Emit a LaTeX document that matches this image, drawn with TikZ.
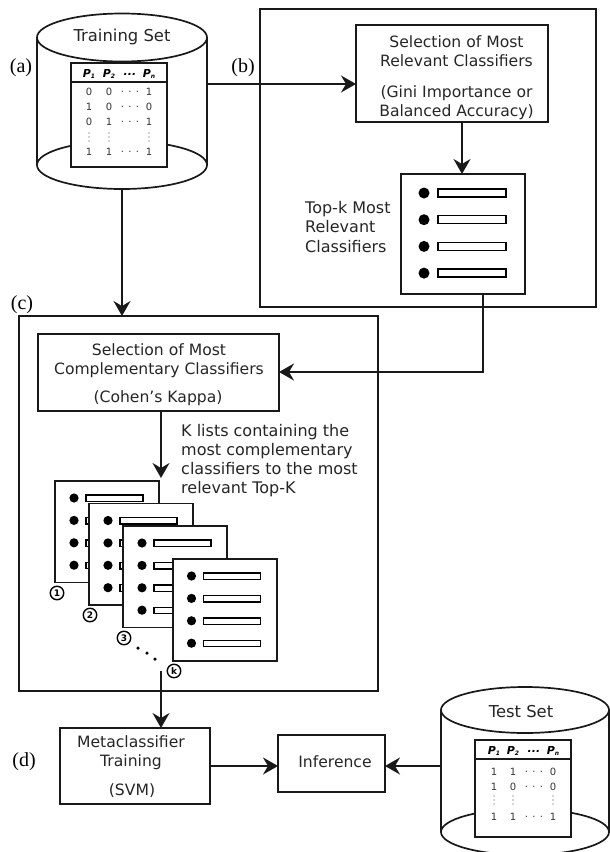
\documentclass[tikz,border=0pt]{standalone}
\usepackage{fontspec}
\setmainfont{DejaVu Sans}
\newfontfamily\serifl{Liberation Serif}
\usetikzlibrary{arrows.meta,calc}
\tikzset{
  x=1pt,y=-1pt,
  ink/.style={line width=1.7pt,draw=black!90},
  boxn/.style={ink,fill=white,inner sep=0pt,outer sep=0pt},
  flow/.style={ink,-{Stealth[length=15pt,width=17pt,inset=5pt]}},
  txt/.style={font=\fontsize{15.6}{19.2}\selectfont,text=black!85,align=center,inner sep=0pt},
  txtl/.style={txt,align=left,anchor=west},
  tag/.style={font=\serifl\fontsize{20}{22}\selectfont,inner sep=0pt},
  cell/.style={font=\fontsize{10}{10}\selectfont,text=black!80,inner sep=0pt},
  hcell/.style={font=\bfseries\itshape\fontsize{11}{10}\selectfont,inner sep=0pt},
  num/.style={circle,draw=black,line width=1.4pt,fill=white,minimum size=13.5pt,inner sep=0pt,font=\bfseries\fontsize{9}{9}\selectfont},
  dotn/.style={circle,fill=black,inner sep=0pt,minimum size=#1},
}
\newcommand{\rectnode}[6][]{% name x1 y1 x2 y2
  \node[boxn,#1,minimum width={(#5)*1pt-(#3)*1pt},minimum height={(#6)*1pt-(#4)*1pt}] (#2) at ({((#3)+(#5))/2},{((#4)+(#6))/2}) {};}
\newcommand{\cylinder}[7]{% name cx rx ytop ybot ry
  \node[inner sep=0pt,minimum size=0pt] (#1) at (#2,#4) {};
  \fill[white] (#2-#3,#4) -- (#2-#3,#5) arc[start angle=180,end angle=360,x radius=#3,y radius=-#6] -- (#2+#3,#4) -- cycle;
  \draw[ink] (#2-#3,#5) arc[start angle=180,end angle=0,x radius=#3,y radius=-#6];
  \draw[ink,fill=white] (#2-#3,#5) arc[start angle=180,end angle=360,x radius=#3,y radius=-#6];
  \draw[ink] (#2-#3,#4) -- (#2-#3,#5) (#2+#3,#4) -- (#2+#3,#5);
  \draw[ink,fill=white] (#2,#4) ellipse[x radius=#3,y radius=#6];
  #7}
\newcommand{\head}[5]{% x1 x2 x3 x4 y
  \node[hcell] at (#1,#5) {P\raisebox{-1pt}{\fontsize{6}{6}\selectfont 1}};
  \node[hcell] at (#2,#5) {P\raisebox{-1pt}{\fontsize{6}{6}\selectfont 2}};
  \node[hcell] at (#3,#5) {...};
  \node[hcell] at (#4,#5) {P\raisebox{-1pt}{\fontsize{6}{6}\selectfont n}};}
\newcommand{\row}[8]{% x1 x2 x3 x4 y a b d
  \node[cell] at (#1,#5) {#6};
  \node[cell] at (#2,#5) {#7};
  \node[cell] at (#3,#5) {. . .};
  \node[cell] at (#4,#5) {#8};}
\newcommand{\vdotsrow}[4]{% x1 x2 x3 y
  \foreach \xx in {#1,#2,#3}
    \foreach \dd in {-4,0,4}
      \fill[black!70] (\xx,#4+\dd) circle[radius=0.6pt];}
\newcommand{\cardbig}[4]{% name x y unused
  \rectnode{#1}{#2}{#3}{#2+124}{#3+120}
  \foreach \k in {0,1,2,3}{
    \fill[black] (#2+23,#3+19+26.7*\k) circle[radius=5.5pt];
    \draw[line width=1.4pt,fill=white] (#2+37,#3+15+26.7*\k) rectangle (#2+105,#3+23+26.7*\k);
  }}
\newcommand{\cardsmall}[3]{% name x y
  \rectnode{#1}{#2}{#3}{#2+104}{#3+101.5}
  \foreach \k in {0,1,2,3}{
    \fill[black] (#2+19,#3+17+22.4*\k) circle[radius=4.6pt];
    \draw[line width=1.4pt,fill=white] (#2+31,#3+14+22.4*\k) rectangle (#2+88,#3+20.5+22.4*\k);
  }}
\begin{document}
\begin{tikzpicture}
\useasboundingbox (0,0) rectangle (610,852);
\fill[white] (0,0) rectangle (610,852);

% frames
\rectnode{frameb}{260}{9}{596}{307}
\rectnode{framec}{19}{316}{378}{691}

% training set
\cylinder{train}{122}{85}{37.5}{165}{24}{}
\rectnode{trainT}{71}{63}{167}{167}
\draw[ink] (trainT.west |- 0,82) -- (trainT.east |- 0,82);
\node[txt,font=\fontsize{16.4}{16}\selectfont] (trainL) at (122,37) {Training Set};
\head{89}{109}{130}{149}{74}
\row{89}{109}{130}{149}{92}{0}{0}{1}
\row{89}{109}{130}{149}{107}{1}{0}{0}
\row{89}{109}{130}{149}{122}{0}{1}{1}
\vdotsrow{89}{109}{149}{137}
\row{89}{109}{130}{149}{152}{1}{1}{1}

% test set
\cylinder{test}{525}{84}{710}{832}{23}{}
\rectnode{testT}{475}{740}{571}{837}
\draw[ink] (testT.west |- 0,759) -- (testT.east |- 0,759);
\node[txt,font=\fontsize{16.4}{16}\selectfont] (testL) at (521,712) {Test Set};
\head{494}{513}{534}{553}{751}
\row{494}{513}{534}{553}{772}{1}{1}{0}
\row{494}{513}{534}{553}{787}{1}{0}{0}
\vdotsrow{494}{513}{553}{800}
\row{494}{513}{534}{553}{817}{1}{1}{1}

% selection relevant
\rectnode{selR}{356}{25}{548}{122}
\node[txt] (selRa) at (456.5,51.5) {Selection of Most\\Relevant Classifiers};
\node[txt] (selRb) at (456.5,102.5) {(Gini Importance or\\Balanced Accuracy)};
\cardbig{topk}{401}{174}{}
\node[txtl,font=\fontsize{16}{19.4}\selectfont] (topkL) at (305,229) {\begin{tabular}{@{}l@{}}Top-k Most\\Relevant\\Classifiers\end{tabular}};

% selection complementary
\rectnode{selC}{38}{334}{279}{411}
\node[txt] (selCa) at (159,360.5) {Selection of Most\\Complementary Classifiers};
\node[txt] (selCb) at (158,398) {(Cohen's Kappa)};
\node[txtl,font=\fontsize{16}{19}\selectfont] (klist) at (181,461) {\begin{tabular}{@{}l@{}}K lists containing the\\most complementary\\classifiers to the most\\relevant Top-K\end{tabular}};

% stacked lists
\cardsmall{c1}{55}{481}
\cardsmall{c2}{89}{503.5}
\cardsmall{c3}{123}{526}
\rectnode{c4}{173}{559}{277}{661}
\foreach \k in {0,1,2,3}{
  \fill[black] (191.5,576+22.4*\k) circle[radius=4.6pt];
  \draw[line width=1.4pt,fill=white] (203.5,573+22.4*\k) rectangle (260.5,579.5+22.4*\k);
}
\node[num] (n1) at (57,593) {1};
\node[num] (n2) at (90,615) {2};
\node[num] (n3) at (124,638) {3};
\node[num] (nk) at (174,671) {k};
\node[dotn=3.5pt] (d1) at (138,648) {};
\node[dotn=3.5pt] (d2) at (147,653) {};
\node[dotn=3.5pt] (d3) at (155,659) {};
\coordinate (stackOut) at (161,671);
\coordinate (stackIn) at (161,478);

% bottom boxes
\rectnode{meta}{60}{728}{210}{804}
\node[txt] (metaa) at (131,753) {Metaclassifier\\Training};
\node[txt] (metab) at (132,791) {(SVM)};
\rectnode{infer}{278}{735}{385}{792}
\node[txt] (inferL) at (335,762) {Inference};

% connectors
\coordinate (trainOut) at (207,84);
\draw[flow] (trainOut) -- (trainOut -| selR.west);
\coordinate (trainBot) at (122,189);
\draw[flow] (trainBot) -- (trainBot |- framec.north);
\coordinate (selROut) at (462,122);
\draw[flow] (selROut) -- (selROut |- topk.north);
\coordinate (topkOut) at (483,294);
\coordinate (selCIn) at (279,372);
\draw[flow] (topkOut) -- (topkOut |- selCIn) -- (selCIn);
\coordinate (selCOut) at (161,411);
\draw[flow] (selCOut) -- (stackIn);
\draw[flow] (stackOut) -- (stackOut |- meta.north);
\coordinate (metaOut) at (210,766);
\draw[flow] (metaOut) -- (metaOut -| infer.west);
\coordinate (testOut) at (441,766);
\draw[flow] (testOut) -- (testOut -| infer.east);

% tags
\node[tag] (ta) at (21,68) {(a)};
\node[tag] (tb) at (243,68) {(b)};
\node[tag] (tc) at (22,305) {(c)};
\node[tag] (td) at (24,762) {(d)};
\end{tikzpicture}
\end{document}
